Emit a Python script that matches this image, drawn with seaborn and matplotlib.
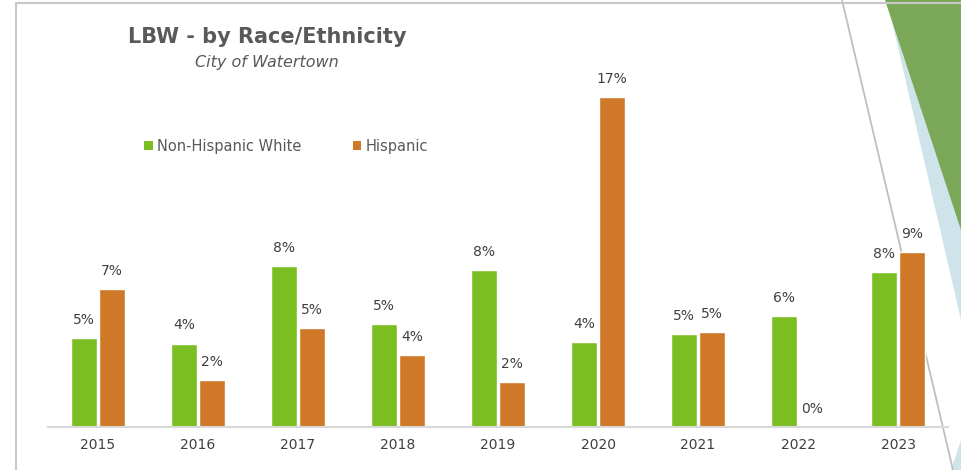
import matplotlib
matplotlib.use("Agg")
import matplotlib.pyplot as plt
from matplotlib.patches import Polygon, Patch
from matplotlib.lines import Line2D
import seaborn as sns
import pandas as pd

years = ["2015", "2016", "2017", "2018", "2019", "2020", "2021", "2022", "2023"]
nh_white = [4.6, 4.3, 8.3, 5.3, 8.1, 4.4, 4.8, 5.7, 8.0]
hispanic = [7.1, 2.4, 5.1, 3.7, 2.3, 17.0, 4.9, 0.0, 9.0]
series = ["Non-Hispanic White", "Hispanic"]
colors = ["#7BBE22", "#CF7827"]

df = pd.DataFrame({
    "Year": years * 2,
    "Value": nh_white + hispanic,
    "Group": [series[0]] * len(years) + [series[1]] * len(years),
})

sns.set_theme(style="white")
plt.rcParams["font.family"] = ["DejaVu Sans"]

fig = plt.figure(figsize=(9.61, 4.70), dpi=100)
fig.patch.set_facecolor("white")

W, H = 961, 470
def fx(x):
    return x / W
def fy(y):
    return 1 - y / H

# slide decorations (behind the chart)
fig.add_artist(Polygon([[fx(887), fy(0)], [1, fy(0)], [1, fy(320)]], closed=True,
                       transform=fig.transFigure, facecolor="#CFE4EA", edgecolor="none", zorder=-4))
fig.add_artist(Polygon([[fx(885), fy(0)], [1, fy(0)], [1, fy(230)]], closed=True,
                       transform=fig.transFigure, facecolor="#7AA858", edgecolor="none", zorder=-3))
fig.add_artist(Polygon([[fx(951), 0], [1, 0], [1, fy(440)]], closed=True,
                       transform=fig.transFigure, facecolor="#CFE4EA", edgecolor="none", zorder=-4))
fig.add_artist(Line2D([fx(842), fx(953)], [1, 0], transform=fig.transFigure,
                      color="#BFBFBF", lw=1.3, zorder=-2))
fig.add_artist(Line2D([fx(16), 1], [fy(3), fy(3)], transform=fig.transFigure,
                      color="#C8C8C8", lw=1.5, zorder=-2))
fig.add_artist(Line2D([fx(16), fx(16)], [fy(3), 0], transform=fig.transFigure,
                      color="#C8C8C8", lw=1.5, zorder=-2))

ax = fig.add_axes([fx(48), 43 / H, 900 / W, 1 - 39 / H - 43 / H])
ax.set_facecolor("none")
ax.patch.set_alpha(0)

sns.barplot(data=df, x="Year", y="Value", hue="Group", order=years, hue_order=series,
            palette=colors, width=0.56, gap=0.1, ax=ax, legend=False, saturation=1)

ax.set_ylim(0, 20)
ax.set_xlim(-0.5, len(years) - 0.5)
for cont in ax.containers:
    labels = [f"{int(round(b.get_height() + 1e-9))}%" for b in cont]
    ax.bar_label(cont, labels=labels, padding=8, fontsize=10, color="#404040")

ax.set_xlabel("")
ax.set_ylabel("")
ax.set_yticks([])
ax.tick_params(axis="x", length=0, labelsize=10, labelcolor="#404040", pad=8)
for s in ["top", "right", "left"]:
    ax.spines[s].set_visible(False)
ax.spines["bottom"].set_color("#D9D9D9")
ax.spines["bottom"].set_linewidth(1.5)

fig.text(fx(267), fy(37), "LBW - by Race/Ethnicity", ha="center", va="center",
         fontsize=15, fontweight="bold", color="#595959")
fig.text(fx(267), fy(63), "City of Watertown", ha="center", va="center",
         fontsize=11.5, style="italic", color="#595959")

# legend
handles = [Patch(facecolor=c, edgecolor="none") for c in colors]
fig.legend(handles, series, loc="center left", bbox_to_anchor=(fx(131), fy(146)),
           ncol=2, frameon=False, fontsize=10.5, labelcolor="#595959",
           handlelength=0.6, handleheight=0.6, handletextpad=0.3, columnspacing=3.5)

fig.savefig("out.png", dpi=100)
